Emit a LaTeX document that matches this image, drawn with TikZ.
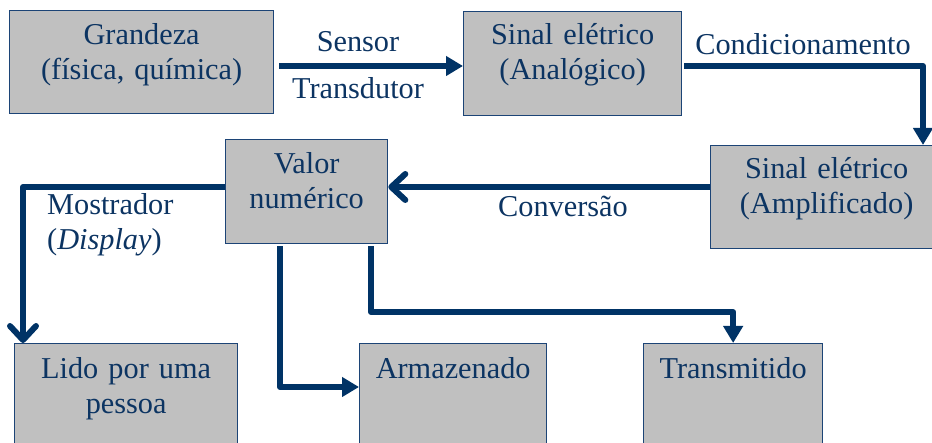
\documentclass[tikz,border=0pt]{standalone}
\usepackage{fontspec}
\setmainfont{Liberation Serif}
\usetikzlibrary{arrows.meta}
\definecolor{navy}{RGB}{0,51,102}
\definecolor{txtc}{RGB}{12,52,98}
\definecolor{boxfill}{RGB}{192,192,192}
\definecolor{boxline}{RGB}{28,68,118}
\begin{document}
\begin{tikzpicture}[x=1pt,y=-1pt,
  every node/.style={font=\fontsize{30.3}{35}\selectfont, text=txtc},
  box/.style={draw=boxline, fill=boxfill, line width=1.3pt, inner sep=0pt, align=center, anchor=north west},
  conn/.style={draw=navy, line width=6pt, line join=round},
  tri/.style={-{Triangle[length=17pt,width=19pt]}},
  barb/.style={-{Straight Barb[length=14pt,width=26pt,line cap=round,line join=round]}},
  lbl/.style={anchor=base, inner sep=0pt}]
\useasboundingbox (0,0) rectangle (932,443);
\clip (0,0) rectangle (932,443);
% boxes
\node[box, text width=264pt, text height=34pt, text depth=69pt] (gr) at (9,10) {Grandeza\\(física, química)};
\node[box, text width=218pt, text height=33pt, text depth=71pt] (sa) at (463,11) {Sinal elétrico\\(Analógico)};
\node[box, text width=232pt, text height=33pt, text depth=70pt] (sb) at (710,145) {Sinal elétrico\\(Amplificado)};
\node[box, text width=162pt, text height=34pt, text depth=70pt] (vn) at (225,139) {Valor\\numérico};
\node[box, text width=223pt, text height=35pt, text depth=110pt] (lp) at (14,343) {Lido por uma\\pessoa};
\node[box, text width=187pt, text height=35pt, text depth=110pt] (ar) at (359,343) {Armazenado};
\node[box, text width=179pt, text height=35pt, text depth=110pt] (tr) at (643,343) {Transmitido};
% labels
\node[lbl] (sensor) at (358,52) {Sensor};
\node[lbl] (transd) at (358,99) {Transdutor};
\node[lbl] (cond) at (803,55) {Condicionamento};
\node[lbl] (conv) at (563,217) {Conversão};
\node[lbl, anchor=base west] (most) at (47,215) {Mostrador};
\node[lbl, anchor=base west] (disp) at (47,250) {(\textit{Display})};
% connectors
\draw[conn, tri, shorten <=5pt] (gr.east |- 0,66) -- (sa.west |- 0,66);
\draw[conn, tri, shorten <=2pt] (sa.east |- 0,66) -| (sb.north -| 923,0);
\draw[conn, barb] (sb.west |- 0,187) -- (vn.east |- 0,187);
\draw[conn, barb] (vn.west |- 0,187) -| (lp.north -| 23,0);
\draw[conn, tri, shorten <=2pt] (vn.south -| 280,0) |- (ar.west |- 0,387);
\draw[conn, tri, shorten <=2pt] (vn.south -| 371,0) |- (tr.north |- 0,312) -- (tr.north);
\end{tikzpicture}
\end{document}
